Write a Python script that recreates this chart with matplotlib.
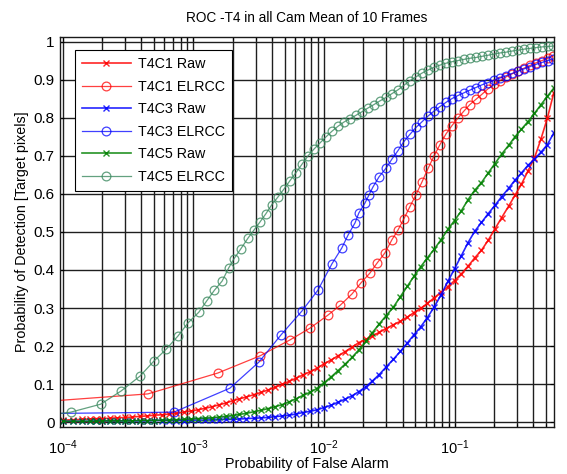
import numpy as np
import matplotlib
matplotlib.use("Agg")
import matplotlib.pyplot as plt
from matplotlib.ticker import LogLocator, NullFormatter, FixedLocator, FuncFormatter

plt.rcParams['font.family'] = ['Liberation Sans', 'DejaVu Sans']
plt.rcParams['mathtext.default'] = 'regular'

# ---- raw detector curves: shared false-alarm sampling points ----
far_raw = [1.0e-4, 1.2e-4, 1.4e-4, 1.6e-4, 1.8e-4, 2.0e-4, 2.3e-4, 2.6e-4, 3.0e-4,
           3.4e-4, 3.9e-4, 4.4e-4, 5.0e-4, 5.7e-4, 6.5e-4, 7.4e-4, 8.4e-4, 9.5e-4,
           1.08e-3, 1.22e-3, 1.38e-3, 1.56e-3, 1.77e-3, 2.0e-3, 2.25e-3, 2.55e-3, 2.9e-3,
           3.3e-3, 3.7e-3, 4.2e-3, 4.8e-3, 5.4e-3, 6.1e-3, 6.9e-3, 7.8e-3, 8.8e-3,
           1.0e-2, 1.13e-2, 1.28e-2, 1.45e-2, 1.64e-2, 1.85e-2, 2.1e-2, 2.35e-2, 2.65e-2,
           3.0e-2, 3.4e-2, 3.85e-2, 4.35e-2, 4.9e-2, 5.5e-2, 6.2e-2, 7.0e-2, 7.9e-2, 8.9e-2,
           1.0e-1, 1.13e-1, 1.27e-1, 1.43e-1, 1.61e-1, 1.81e-1, 2.04e-1, 2.3e-1, 2.6e-1,
           2.9e-1, 3.25e-1, 3.65e-1, 4.1e-1, 4.6e-1, 5.15e-1, 5.75e-1]

pd_t4c1_raw = [0.005, 0.006, 0.007, 0.008, 0.009, 0.009, 0.010, 0.011, 0.012,
               0.013, 0.015, 0.016, 0.018, 0.019, 0.021, 0.023, 0.026, 0.029,
               0.032, 0.036, 0.040, 0.045, 0.050, 0.056, 0.061, 0.066, 0.072,
               0.078, 0.084, 0.091, 0.099, 0.107, 0.115, 0.124, 0.132, 0.141,
               0.153, 0.163, 0.174, 0.185, 0.197, 0.209, 0.218, 0.226, 0.236,
               0.246, 0.256, 0.265, 0.276, 0.288, 0.299, 0.312, 0.327, 0.342, 0.356,
               0.372, 0.390, 0.410, 0.432, 0.452, 0.478, 0.508, 0.538, 0.568,
               0.596, 0.625, 0.660, 0.695, 0.745, 0.800, 0.865]

pd_t4c3_raw = [0.002, 0.002, 0.002, 0.002, 0.003, 0.003, 0.003, 0.003, 0.003,
               0.003, 0.003, 0.003, 0.004, 0.004, 0.004, 0.004, 0.004, 0.005,
               0.005, 0.005, 0.006, 0.006, 0.007, 0.007, 0.008, 0.009, 0.010,
               0.011, 0.012, 0.014, 0.016, 0.018, 0.021, 0.025, 0.028, 0.032,
               0.038, 0.044, 0.052, 0.060, 0.069, 0.080, 0.093, 0.108, 0.125,
               0.145, 0.165, 0.186, 0.208, 0.230, 0.250, 0.275, 0.303, 0.335, 0.370,
               0.403, 0.438, 0.472, 0.502, 0.525, 0.548, 0.570, 0.593, 0.615,
               0.636, 0.655, 0.675, 0.692, 0.710, 0.730, 0.760]

pd_t4c5_raw = [0.002, 0.002, 0.002, 0.002, 0.002, 0.003, 0.003, 0.003, 0.003,
               0.003, 0.004, 0.004, 0.004, 0.005, 0.005, 0.006, 0.007, 0.008,
               0.009, 0.010, 0.011, 0.013, 0.015, 0.017, 0.020, 0.023, 0.027,
               0.031, 0.035, 0.040, 0.046, 0.053, 0.061, 0.070, 0.078, 0.088,
               0.103, 0.118, 0.135, 0.152, 0.170, 0.190, 0.212, 0.235, 0.258,
               0.280, 0.302, 0.330, 0.357, 0.384, 0.408, 0.432, 0.455, 0.480, 0.507,
               0.530, 0.556, 0.585, 0.610, 0.630, 0.655, 0.680, 0.705, 0.728,
               0.750, 0.770, 0.790, 0.812, 0.835, 0.857, 0.878]

# ---- ELRCC curves: dense false-alarm sampling in the upper region ----
far_elrcc_dense = [2.62e-3, 2.91e-3, 3.23e-3, 3.59e-3, 3.99e-3, 4.44e-3, 4.94e-3, 5.49e-3,
                   6.10e-3, 6.78e-3, 7.54e-3, 8.38e-3, 9.31e-3,
                   1.035e-2, 1.151e-2, 1.28e-2, 1.42e-2, 1.58e-2, 1.76e-2, 1.95e-2, 2.17e-2,
                   2.41e-2, 2.69e-2, 2.99e-2, 3.32e-2, 3.69e-2, 4.10e-2, 4.56e-2, 5.07e-2,
                   5.64e-2, 6.27e-2, 6.97e-2, 7.74e-2, 8.61e-2, 9.57e-2,
                   1.064e-1, 1.18e-1, 1.31e-1, 1.46e-1, 1.62e-1, 1.81e-1, 2.01e-1, 2.23e-1,
                   2.48e-1, 2.76e-1, 3.07e-1, 3.41e-1, 3.79e-1, 4.21e-1, 4.68e-1, 5.20e-1,
                   5.69e-1]

# T4C1 ELRCC
far_t4c1_elrcc_low = [5.0e-5, 4.48e-4, 1.54e-3, 3.23e-3, 5.49e-3, 7.81e-3, 1.07e-2,
                      1.33e-2, 1.64e-2, 1.92e-2, 2.25e-2, 2.55e-2, 2.93e-2]
pd_t4c1_elrcc_low = [0.050, 0.074, 0.129, 0.174, 0.216, 0.247, 0.281,
                     0.307, 0.337, 0.366, 0.392, 0.418, 0.445]
pd_t4c1_elrcc_high = [0.480, 0.505, 0.535, 0.567, 0.598, 0.632, 0.667, 0.700, 0.730,
                      0.758, 0.780, 0.800, 0.818, 0.835, 0.849, 0.862, 0.877, 0.888, 0.898,
                      0.908, 0.916, 0.924, 0.931, 0.938, 0.945, 0.951, 0.957, 0.963]

# T4C3 ELRCC
far_t4c3_elrcc_low = [6.0e-5, 7.09e-4, 1.90e-3, 3.18e-3, 4.68e-3, 6.78e-3, 8.99e-3,
                      1.15e-2, 1.37e-2, 1.53e-2, 1.73e-2, 1.85e-2, 2.06e-2, 2.21e-2,
                      2.37e-2, 2.64e-2]
pd_t4c3_elrcc_low = [0.022, 0.026, 0.089, 0.158, 0.229, 0.292, 0.347,
                     0.416, 0.458, 0.492, 0.524, 0.550, 0.576, 0.597,
                     0.618, 0.645]
pd_t4c3_elrcc_high = [0.668, 0.692, 0.714, 0.738, 0.757, 0.775, 0.790, 0.805, 0.818, 0.830,
                      0.841, 0.851, 0.859, 0.866, 0.873, 0.880, 0.887, 0.893, 0.899, 0.905,
                      0.911, 0.917, 0.923, 0.929, 0.935, 0.941, 0.946, 0.951, 0.955]

# T4C5 ELRCC
far_t4c5_elrcc_low = [5.0e-5, 1.15e-4, 1.95e-4, 2.8e-4, 3.9e-4, 5.0e-4, 6.2e-4, 7.6e-4,
                      9.1e-4, 1.1e-3, 1.26e-3, 1.45e-3, 1.66e-3, 1.86e-3, 2.04e-3, 2.3e-3]
pd_t4c5_elrcc_low = [0.010, 0.026, 0.047, 0.082, 0.121, 0.161, 0.192, 0.226,
                     0.261, 0.289, 0.318, 0.347, 0.371, 0.405, 0.429, 0.455]
pd_t4c5_elrcc_high = [0.484, 0.505, 0.526, 0.548, 0.572, 0.592, 0.613, 0.635, 0.656, 0.678,
                      0.700, 0.718, 0.734, 0.750, 0.765, 0.778, 0.789, 0.798, 0.807, 0.816,
                      0.826, 0.835, 0.845, 0.854, 0.864, 0.874, 0.886, 0.898, 0.908, 0.918,
                      0.926, 0.933, 0.939, 0.944, 0.948, 0.951, 0.954, 0.957, 0.959, 0.962,
                      0.965, 0.968, 0.971, 0.973, 0.976, 0.978, 0.981, 0.983, 0.985, 0.987,
                      0.988, 0.989]

labels = ['T4C1 Raw', 'T4C1 ELRCC', 'T4C3 Raw', 'T4C3 ELRCC', 'T4C5 Raw', 'T4C5 ELRCC']
y_ticks = [0, 0.1, 0.2, 0.3, 0.4, 0.5, 0.6, 0.7, 0.8, 0.9, 1.0]


def elrcc_series(far_low, pd_low, pd_high):
    start = len(far_elrcc_dense) - len(pd_high)
    far = np.concatenate([far_low, far_elrcc_dense[start:]])
    pd = np.concatenate([pd_low, pd_high])
    return far, pd


fig = plt.figure(figsize=(5.67, 4.74), dpi=100)
ax = fig.add_axes([0.1058, 0.0992, 0.8712, 0.8228])

raw_style = dict(marker='x', markersize=4.3, markeredgewidth=1.0, linewidth=1.2)
elrcc_style = dict(marker='o', markersize=6.3, markerfacecolor='none',
                   markeredgewidth=0.9, linewidth=0.9)

red, blue, green, seagreen = '#ff0000', '#0000ff', '#008000', '#3c8a60'

ax.plot(far_raw, pd_t4c1_raw, color=red, label=labels[0], alpha=0.85, **raw_style)
f, p = elrcc_series(far_t4c1_elrcc_low, pd_t4c1_elrcc_low, pd_t4c1_elrcc_high)
ax.plot(f, p, color=red, label=labels[1], alpha=0.75, **elrcc_style)
ax.plot(far_raw, pd_t4c3_raw, color=blue, label=labels[2], alpha=0.85, **raw_style)
f, p = elrcc_series(far_t4c3_elrcc_low, pd_t4c3_elrcc_low, pd_t4c3_elrcc_high)
ax.plot(f, p, color=blue, label=labels[3], alpha=0.75, **elrcc_style)
ax.plot(far_raw, pd_t4c5_raw, color=green, label=labels[4], alpha=0.85, **raw_style)
f, p = elrcc_series(far_t4c5_elrcc_low, pd_t4c5_elrcc_low, pd_t4c5_elrcc_high)
ax.plot(f, p, color=seagreen, label=labels[5], alpha=0.8, **elrcc_style)

ax.set_xscale('log')
ax.set_xlim(9.5e-5, 0.578)
ax.set_ylim(-0.013, 1.013)

ax.xaxis.set_major_locator(LogLocator(base=10))
ax.xaxis.set_minor_locator(LogLocator(base=10, subs=np.arange(2, 10)))
ax.xaxis.set_minor_formatter(NullFormatter())
ax.yaxis.set_major_locator(FixedLocator(y_ticks))
ax.yaxis.set_major_formatter(FuncFormatter(lambda v, _: '%g' % round(v, 1)))

ax.set_axisbelow(True)
ax.grid(True, which='both', axis='x', color='0.12', linewidth=1.0)
ax.grid(True, which='major', axis='y', color='0.12', linewidth=1.0)
ax.tick_params(which='both', direction='in', top=True, right=True, labelsize=11,
               length=3, width=0.8)
ax.tick_params(which='minor', length=2)
ax.tick_params(axis='x', which='major', pad=8, labelsize=10.5)
ax.tick_params(axis='y', which='major', pad=4)
for s in ax.spines.values():
    s.set_linewidth(1.0)
    s.set_color('0.1')

ax.set_title('ROC -T4 in all Cam Mean of 10 Frames', fontsize=9.8, pad=11)
ax.set_xlabel('Probability of False Alarm', fontsize=10.4, labelpad=0)
ax.set_ylabel('Probability of Detection [Target pixels]', fontsize=10.3, labelpad=3)

leg = ax.legend(loc='upper left', bbox_to_anchor=(0.03, 0.967), borderaxespad=0,
                fontsize=10.3, handlelength=3.4, labelspacing=0.6, numpoints=1,
                fancybox=False, framealpha=1, edgecolor='black', borderpad=0.5,
                handletextpad=0.5)
leg.get_frame().set_linewidth(0.8)

fig.savefig('out.png', dpi=100)
